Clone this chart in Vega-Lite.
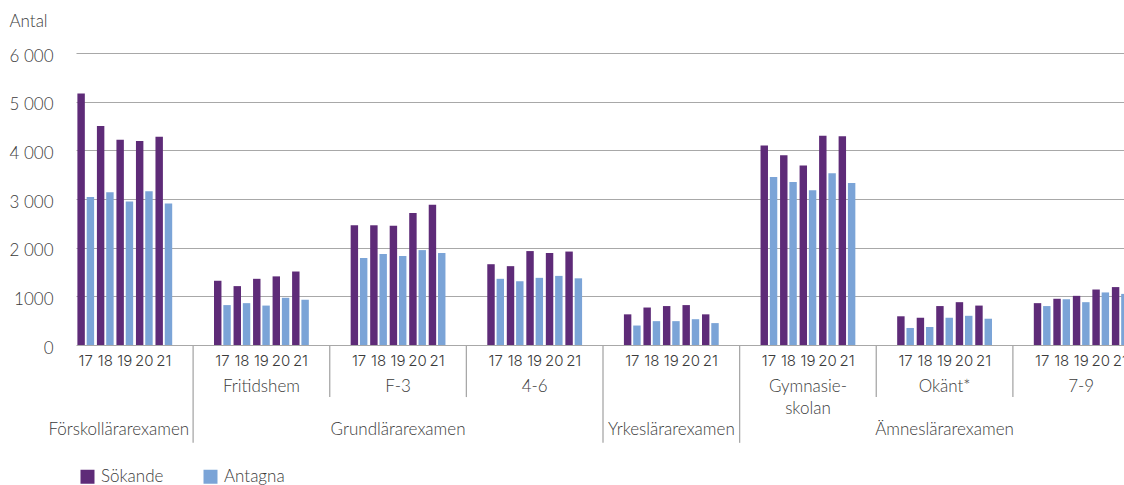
{
  "$schema": "https://vega.github.io/schema/vega-lite/v6.json",
  "width": 1048,
  "height": 292,
  "autosize": {"type": "none"},
  "padding": {"left": 76, "top": 53, "right": 0, "bottom": 140},
  "background": "white",
  "config": {
    "font": "Lato",
    "view": {"stroke": null},
    "text": {"font": "Lato", "fontSize": 17, "fontWeight": 300, "color": "#3b3b3b"}
  },
  "datasets": {
    "bars": [
      {"slot": "1-17", "series": "Sökande", "value": 5170}, {"slot": "1-17", "series": "Antagna", "value": 3040},
      {"slot": "1-18", "series": "Sökande", "value": 4500}, {"slot": "1-18", "series": "Antagna", "value": 3140},
      {"slot": "1-19", "series": "Sökande", "value": 4220}, {"slot": "1-19", "series": "Antagna", "value": 2950},
      {"slot": "1-20", "series": "Sökande", "value": 4190}, {"slot": "1-20", "series": "Antagna", "value": 3160},
      {"slot": "1-21", "series": "Sökande", "value": 4280}, {"slot": "1-21", "series": "Antagna", "value": 2910},
      {"slot": "2-17", "series": "Sökande", "value": 1320}, {"slot": "2-17", "series": "Antagna", "value": 820},
      {"slot": "2-18", "series": "Sökande", "value": 1210}, {"slot": "2-18", "series": "Antagna", "value": 860},
      {"slot": "2-19", "series": "Sökande", "value": 1360}, {"slot": "2-19", "series": "Antagna", "value": 810},
      {"slot": "2-20", "series": "Sökande", "value": 1410}, {"slot": "2-20", "series": "Antagna", "value": 970},
      {"slot": "2-21", "series": "Sökande", "value": 1510}, {"slot": "2-21", "series": "Antagna", "value": 930},
      {"slot": "3-17", "series": "Sökande", "value": 2460}, {"slot": "3-17", "series": "Antagna", "value": 1790},
      {"slot": "3-18", "series": "Sökande", "value": 2460}, {"slot": "3-18", "series": "Antagna", "value": 1870},
      {"slot": "3-19", "series": "Sökande", "value": 2450}, {"slot": "3-19", "series": "Antagna", "value": 1830},
      {"slot": "3-20", "series": "Sökande", "value": 2710}, {"slot": "3-20", "series": "Antagna", "value": 1950},
      {"slot": "3-21", "series": "Sökande", "value": 2880}, {"slot": "3-21", "series": "Antagna", "value": 1890},
      {"slot": "4-17", "series": "Sökande", "value": 1660}, {"slot": "4-17", "series": "Antagna", "value": 1360},
      {"slot": "4-18", "series": "Sökande", "value": 1620}, {"slot": "4-18", "series": "Antagna", "value": 1310},
      {"slot": "4-19", "series": "Sökande", "value": 1930}, {"slot": "4-19", "series": "Antagna", "value": 1380},
      {"slot": "4-20", "series": "Sökande", "value": 1890}, {"slot": "4-20", "series": "Antagna", "value": 1420},
      {"slot": "4-21", "series": "Sökande", "value": 1920}, {"slot": "4-21", "series": "Antagna", "value": 1370},
      {"slot": "5-17", "series": "Sökande", "value": 630}, {"slot": "5-17", "series": "Antagna", "value": 400},
      {"slot": "5-18", "series": "Sökande", "value": 770}, {"slot": "5-18", "series": "Antagna", "value": 490},
      {"slot": "5-19", "series": "Sökande", "value": 800}, {"slot": "5-19", "series": "Antagna", "value": 490},
      {"slot": "5-20", "series": "Sökande", "value": 820}, {"slot": "5-20", "series": "Antagna", "value": 530},
      {"slot": "5-21", "series": "Sökande", "value": 630}, {"slot": "5-21", "series": "Antagna", "value": 450},
      {"slot": "6-17", "series": "Sökande", "value": 4100}, {"slot": "6-17", "series": "Antagna", "value": 3450},
      {"slot": "6-18", "series": "Sökande", "value": 3900}, {"slot": "6-18", "series": "Antagna", "value": 3350},
      {"slot": "6-19", "series": "Sökande", "value": 3690}, {"slot": "6-19", "series": "Antagna", "value": 3180},
      {"slot": "6-20", "series": "Sökande", "value": 4300}, {"slot": "6-20", "series": "Antagna", "value": 3530},
      {"slot": "6-21", "series": "Sökande", "value": 4290}, {"slot": "6-21", "series": "Antagna", "value": 3330},
      {"slot": "7-17", "series": "Sökande", "value": 590}, {"slot": "7-17", "series": "Antagna", "value": 350},
      {"slot": "7-18", "series": "Sökande", "value": 560}, {"slot": "7-18", "series": "Antagna", "value": 370},
      {"slot": "7-19", "series": "Sökande", "value": 800}, {"slot": "7-19", "series": "Antagna", "value": 560},
      {"slot": "7-20", "series": "Sökande", "value": 880}, {"slot": "7-20", "series": "Antagna", "value": 600},
      {"slot": "7-21", "series": "Sökande", "value": 810}, {"slot": "7-21", "series": "Antagna", "value": 540},
      {"slot": "8-17", "series": "Sökande", "value": 860}, {"slot": "8-17", "series": "Antagna", "value": 800},
      {"slot": "8-18", "series": "Sökande", "value": 950}, {"slot": "8-18", "series": "Antagna", "value": 940},
      {"slot": "8-19", "series": "Sökande", "value": 1010}, {"slot": "8-19", "series": "Antagna", "value": 880},
      {"slot": "8-20", "series": "Sökande", "value": 1140}, {"slot": "8-20", "series": "Antagna", "value": 1080},
      {"slot": "8-21", "series": "Sökande", "value": 1190}, {"slot": "8-21", "series": "Antagna", "value": 1050}
    ],
    "mainSeps": [{"slot": "s1b"}, {"slot": "s4b"}, {"slot": "s5b"}],
    "subSeps": [{"slot": "s2b"}, {"slot": "s3b"}, {"slot": "s6b"}, {"slot": "s7b"}],
    "subLabels": [
      {"slot": "2-19", "label": "Fritidshem"},
      {"slot": "3-19", "label": "F-3"},
      {"slot": "4-19", "label": "4-6"},
      {"slot": "6-19", "label": "Gymnasie-\nskolan"},
      {"slot": "7-19", "label": "Okänt*"},
      {"slot": "8-19", "label": "7-9"}
    ],
    "mainLabels": [
      {"slot": "3-19", "label": "Grundlärarexamen"},
      {"slot": "5-19", "label": "Yrkeslärarexamen"},
      {"slot": "7-19", "label": "Ämneslärarexamen"}
    ],
    "firstLabel": [{"slot": "1-19", "label": "Förskollärarexamen"}]
  },
  "layer": [
    {
      "data": {"name": "bars"},
      "mark": {"type": "bar"},
      "encoding": {
        "x": {
          "field": "slot", "type": "nominal",
          "scale": {
            "domain": ["1-17","1-18","1-19","1-20","1-21","s1a","s1b","2-17","2-18","2-19","2-20","2-21","s2a","s2b","3-17","3-18","3-19","3-20","3-21","s3a","s3b","4-17","4-18","4-19","4-20","4-21","s4a","s4b","5-17","5-18","5-19","5-20","5-21","s5a","s5b","6-17","6-18","6-19","6-20","6-21","s6a","s6b","7-17","7-18","7-19","7-20","7-21","s7a","s7b","8-17","8-18","8-19","8-20","8-21"],
            "range": [0, 1054],
            "paddingInner": 0,
            "paddingOuter": 0
          },
          "axis": {
            "title": null,
            "labelExpr": "indexof(datum.value, '-') > 0 ? split(datum.value, '-')[1] : ''",
            "ticks": false,
            "domain": false,
            "grid": false,
            "labelAngle": 0,
            "labelPadding": 8,
            "labelFont": "Inter",
            "labelFontSize": 15,
            "labelFontWeight": 300,
            "labelColor": "#3b3b3b",
            "labelOverlap": false,
            "labelBound": false
          }
        },
        "xOffset": {
          "field": "series", "type": "nominal",
          "scale": {"domain": ["Sökande", "Antagna"], "paddingInner": 0.2, "paddingOuter": 0.15}
        },
        "y": {
          "field": "value", "type": "quantitative",
          "scale": {"domain": [0, 6000], "nice": false},
          "axis": {
            "title": "Antal",
            "titleAngle": 0,
            "titleAlign": "left",
            "titleBaseline": "alphabetic",
            "titleX": -67,
            "titleY": -27,
            "titleFont": "Lato",
            "titleFontSize": 17,
            "titleFontWeight": 300,
            "titleColor": "#3b3b3b",
            "values": [0, 1000, 2000, 3000, 4000, 5000, 6000],
            "labelExpr": "datum.value == 1000 ? '1000' : replace(format(datum.value, ','), ',', ' ')",
            "labelFont": "Lato",
            "labelFontSize": 17,
            "labelFontWeight": 300,
            "labelColor": "#3b3b3b",
            "labelPadding": 23,
            "labelOffset": 3,
            "ticks": false,
            "domain": false,
            "grid": true,
            "gridColor": "#a8a8a8",
            "gridWidth": 1.2
          }
        },
        "color": {
          "field": "series", "type": "nominal",
          "scale": {"domain": ["Sökande", "Antagna"], "range": ["#5e2b78", "#7ba4d7"]},
          "legend": {
            "orient": "none",
            "legendX": 3,
            "legendY": 415,
            "direction": "horizontal",
            "title": null,
            "padding": 0,
            "symbolType": "square",
            "symbolSize": 196,
            "symbolStrokeWidth": 0,
            "symbolOpacity": 1,
            "labelFont": "Lato",
            "labelFontSize": 17,
            "labelFontWeight": 300,
            "labelColor": "#3b3b3b",
            "labelOffset": 5,
            "columnPadding": 38
          }
        }
      }
    },
    {
      "data": {"name": "mainSeps"},
      "mark": {"type": "rule", "color": "#a8a8a8", "strokeWidth": 1.3},
      "encoding": {
        "x": {"field": "slot", "type": "nominal", "bandPosition": 0},
        "y": {"datum": 0},
        "y2": {"datum": -2010}
      }
    },
    {
      "data": {"name": "subSeps"},
      "mark": {"type": "rule", "color": "#a8a8a8", "strokeWidth": 1.3},
      "encoding": {
        "x": {"field": "slot", "type": "nominal", "bandPosition": 0},
        "y": {"datum": 0},
        "y2": {"datum": -1070}
      }
    },
    {
      "data": {"name": "subLabels"},
      "mark": {"type": "text", "align": "center", "baseline": "top", "lineBreak": "\n", "lineHeight": 21.7},
      "encoding": {
        "x": {"field": "slot", "type": "nominal", "bandPosition": 0.5},
        "y": {"datum": -700},
        "text": {"field": "label"}
      }
    },
    {
      "data": {"name": "mainLabels"},
      "mark": {"type": "text", "align": "center", "baseline": "top"},
      "encoding": {
        "x": {"field": "slot", "type": "nominal", "bandPosition": 0.5},
        "y": {"datum": -1590},
        "text": {"field": "label"}
      }
    },
    {
      "data": {"name": "firstLabel"},
      "mark": {"type": "text", "align": "center", "baseline": "top", "dx": -6},
      "encoding": {
        "x": {"field": "slot", "type": "nominal", "bandPosition": 0.5},
        "y": {"datum": -1590},
        "text": {"field": "label"}
      }
    }
  ]
}
